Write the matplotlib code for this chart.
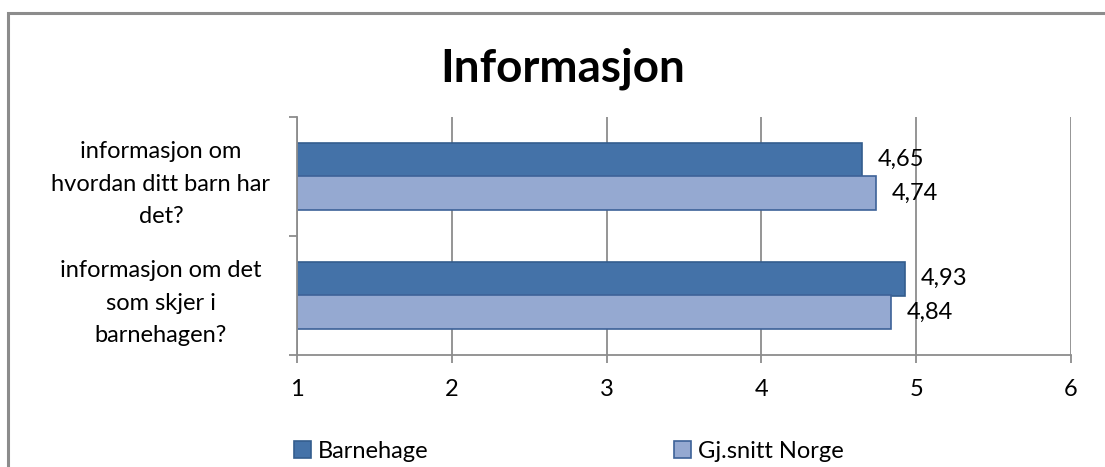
import matplotlib.pyplot as plt
from matplotlib.patches import Rectangle

# Data
categories = ['informasjon om det\nsom skjer i\nbarnehagen?',
              'informasjon om\nhvordan ditt barn har\ndet?']
barnehage = [4.93, 4.65]
norge = [4.84, 4.74]
series_names = ['Barnehage', 'Gj.snitt Norge']
xticks = [1, 2, 3, 4, 5, 6]

plt.rcParams['font.family'] = ['Lato', 'DejaVu Sans']

fig = plt.figure(figsize=(11.05, 4.67), dpi=100)

# outer chart border (only left and top visible)
fig.patches.append(Rectangle((8 / 1105, -0.05), 1.2, (467 - 13) / 467 + 0.05,
                             transform=fig.transFigure, fill=False,
                             edgecolor='#8c8c8c', linewidth=2.2))

ax = fig.add_axes([297 / 1105, 1 - 355 / 467, 774 / 1105, 238 / 467])

h = 0.285
ypos = [0, 1]
dark = '#4472a8'
light = '#95a9d1'
b1 = ax.barh([y + h / 2 for y in ypos], [v - 1 for v in barnehage], height=h, left=1,
             color=dark, edgecolor='#345d8e', linewidth=1.2, label=series_names[0])
b2 = ax.barh([y - h / 2 for y in ypos], [v - 1 for v in norge], height=h, left=1,
             color=light, edgecolor='#3d6298', linewidth=1.2, label=series_names[1])

fs = 17
for y, v in zip(ypos, barnehage):
    ax.text(v + 0.1, y + h / 2, f'{v:.2f}'.replace('.', ','), va='center', ha='left', fontsize=fs)
for y, v in zip(ypos, norge):
    ax.text(v + 0.1, y - h / 2, f'{v:.2f}'.replace('.', ','), va='center', ha='left', fontsize=fs)

ax.set_xlim(1, 6)
ax.set_ylim(-0.5, 1.5)
ax.set_xticks(xticks)
ax.set_xticklabels([str(t) for t in xticks], fontsize=fs)
ax.set_yticks([-0.5, 0.5, 1.5])
ax.set_yticklabels([])
ax.set_yticks(ypos, minor=True)
ax.set_yticklabels(categories, minor=True, fontsize=fs, ha='center', linespacing=1.65)
ax.tick_params(axis='y', which='minor', length=0, pad=98)
ax.tick_params(axis='y', which='major', length=6, color='#8c8c8c', width=1.3)
ax.tick_params(axis='x', length=6, color='#8c8c8c', width=1.3, pad=11)

ax.grid(axis='x', color='#8c8c8c', linewidth=1.3)
ax.set_axisbelow(True)
for s in ['top', 'right']:
    ax.spines[s].set_visible(False)
for s in ['left', 'bottom']:
    ax.spines[s].set_color('#8c8c8c')
    ax.spines[s].set_linewidth(1.3)

fig.text(563 / 1105, 1 - 69 / 467, 'Informasjon', ha='center', va='center',
         fontsize=33, fontweight='bold')

# legend
fig.legend(handles=[b1, b2], labels=series_names, loc='center', ncol=2,
           bbox_to_anchor=(0.515, 1 - 451 / 467), frameon=False, fontsize=fs,
           handlelength=0.7, handleheight=0.7, handletextpad=0.3, columnspacing=10.4)

fig.savefig('out.png', dpi=100)
